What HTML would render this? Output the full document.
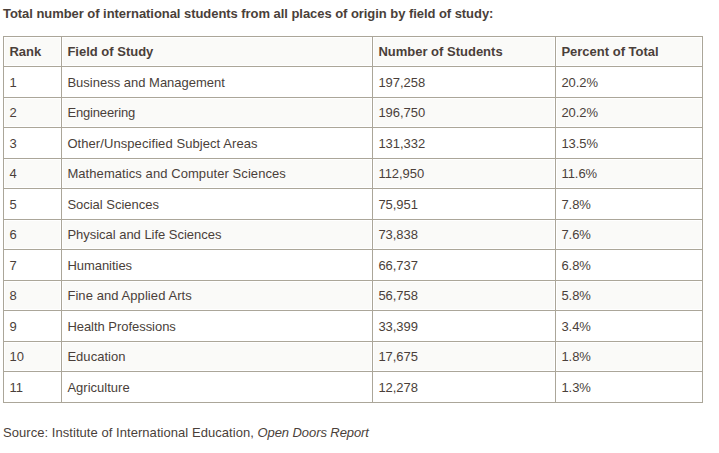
<!DOCTYPE html><html><head><meta charset="utf-8"><style>
html,body{margin:0;padding:0;background:#fff;width:719px;height:453px;overflow:hidden}
body{position:relative;font-family:"Liberation Sans",sans-serif;font-size:13px;color:#4a3f3a}
.l{position:absolute;background:#aba699}
.b{position:absolute;background:#fafaf8}
.t{position:absolute;white-space:nowrap;line-height:15px;letter-spacing:0.075px}
.h{letter-spacing:0px}
.ti{letter-spacing:-0.05px}
.h{font-weight:bold}
</style></head><body>

<div class="b" style="left:5px;top:38px;width:55px;height:27px"></div>
<div class="b" style="left:63px;top:38px;width:308px;height:27px"></div>
<div class="b" style="left:374px;top:38px;width:180px;height:27px"></div>
<div class="b" style="left:557px;top:38px;width:144px;height:27px"></div>
<div class="b" style="left:5px;top:99px;width:55px;height:27px"></div>
<div class="b" style="left:63px;top:99px;width:308px;height:27px"></div>
<div class="b" style="left:374px;top:99px;width:180px;height:27px"></div>
<div class="b" style="left:557px;top:99px;width:144px;height:27px"></div>
<div class="b" style="left:5px;top:160px;width:55px;height:27px"></div>
<div class="b" style="left:63px;top:160px;width:308px;height:27px"></div>
<div class="b" style="left:374px;top:160px;width:180px;height:27px"></div>
<div class="b" style="left:557px;top:160px;width:144px;height:27px"></div>
<div class="b" style="left:5px;top:221px;width:55px;height:27px"></div>
<div class="b" style="left:63px;top:221px;width:308px;height:27px"></div>
<div class="b" style="left:374px;top:221px;width:180px;height:27px"></div>
<div class="b" style="left:557px;top:221px;width:144px;height:27px"></div>
<div class="b" style="left:5px;top:282px;width:55px;height:27px"></div>
<div class="b" style="left:63px;top:282px;width:308px;height:27px"></div>
<div class="b" style="left:374px;top:282px;width:180px;height:27px"></div>
<div class="b" style="left:557px;top:282px;width:144px;height:27px"></div>
<div class="b" style="left:5px;top:343px;width:55px;height:27px"></div>
<div class="b" style="left:63px;top:343px;width:308px;height:27px"></div>
<div class="b" style="left:374px;top:343px;width:180px;height:27px"></div>
<div class="b" style="left:557px;top:343px;width:144px;height:27px"></div>
<div class="l" style="left:3px;top:36px;width:700px;height:1px"></div>
<div class="l" style="left:3px;top:66px;width:700px;height:1px"></div>
<div class="l" style="left:3px;top:97px;width:700px;height:1px"></div>
<div class="l" style="left:3px;top:127px;width:700px;height:1px"></div>
<div class="l" style="left:3px;top:158px;width:700px;height:1px"></div>
<div class="l" style="left:3px;top:188px;width:700px;height:1px"></div>
<div class="l" style="left:3px;top:219px;width:700px;height:1px"></div>
<div class="l" style="left:3px;top:249px;width:700px;height:1px"></div>
<div class="l" style="left:3px;top:280px;width:700px;height:1px"></div>
<div class="l" style="left:3px;top:310px;width:700px;height:1px"></div>
<div class="l" style="left:3px;top:341px;width:700px;height:1px"></div>
<div class="l" style="left:3px;top:371px;width:700px;height:1px"></div>
<div class="l" style="left:3px;top:402px;width:700px;height:1px"></div>
<div class="l" style="left:3px;top:36px;width:1px;height:367px"></div>
<div class="l" style="left:61px;top:36px;width:1px;height:367px"></div>
<div class="l" style="left:372px;top:36px;width:1px;height:367px"></div>
<div class="l" style="left:555px;top:36px;width:1px;height:367px"></div>
<div class="l" style="left:702px;top:36px;width:1px;height:367px"></div>
<div class="t h ti" style="left:3px;top:6px">Total number of international students from all places of origin by field of study:</div>
<div class="t h" style="left:9.40px;top:44.10px">Rank</div>
<div class="t h" style="left:67.40px;top:44.10px">Field of Study</div>
<div class="t h" style="left:378.40px;top:44.10px">Number of Students</div>
<div class="t h" style="left:561.40px;top:44.10px">Percent of Total</div>
<div class="t" style="left:9.40px;top:74.60px">1</div>
<div class="t" style="left:67.40px;top:74.60px;letter-spacing:0.0px">Business and Management</div>
<div class="t" style="left:378.40px;top:74.60px;letter-spacing:-0.03px">197,258</div>
<div class="t" style="left:561.40px;top:74.60px;letter-spacing:-0.03px">20.2%</div>
<div class="t" style="left:9.40px;top:105.10px">2</div>
<div class="t" style="left:67.40px;top:105.10px;letter-spacing:-0.16px">Engineering</div>
<div class="t" style="left:378.40px;top:105.10px;letter-spacing:-0.03px">196,750</div>
<div class="t" style="left:561.40px;top:105.10px;letter-spacing:-0.03px">20.2%</div>
<div class="t" style="left:9.40px;top:135.60px">3</div>
<div class="t" style="left:67.40px;top:135.60px;letter-spacing:0.075px">Other/Unspecified Subject Areas</div>
<div class="t" style="left:378.40px;top:135.60px;letter-spacing:-0.03px">131,332</div>
<div class="t" style="left:561.40px;top:135.60px;letter-spacing:-0.03px">13.5%</div>
<div class="t" style="left:9.40px;top:166.10px">4</div>
<div class="t" style="left:67.40px;top:166.10px;letter-spacing:0.075px">Mathematics and Computer Sciences</div>
<div class="t" style="left:378.40px;top:166.10px;letter-spacing:-0.03px">112,950</div>
<div class="t" style="left:561.40px;top:166.10px;letter-spacing:-0.03px">11.6%</div>
<div class="t" style="left:9.40px;top:196.60px">5</div>
<div class="t" style="left:67.40px;top:196.60px;letter-spacing:-0.02px">Social Sciences</div>
<div class="t" style="left:378.40px;top:196.60px;letter-spacing:-0.03px">75,951</div>
<div class="t" style="left:561.40px;top:196.60px;letter-spacing:-0.03px">7.8%</div>
<div class="t" style="left:9.40px;top:227.10px">6</div>
<div class="t" style="left:67.40px;top:227.10px;letter-spacing:-0.025px">Physical and Life Sciences</div>
<div class="t" style="left:378.40px;top:227.10px;letter-spacing:-0.03px">73,838</div>
<div class="t" style="left:561.40px;top:227.10px;letter-spacing:-0.03px">7.6%</div>
<div class="t" style="left:9.40px;top:257.60px">7</div>
<div class="t" style="left:67.40px;top:257.60px;letter-spacing:-0.035px">Humanities</div>
<div class="t" style="left:378.40px;top:257.60px;letter-spacing:-0.03px">66,737</div>
<div class="t" style="left:561.40px;top:257.60px;letter-spacing:-0.03px">6.8%</div>
<div class="t" style="left:9.40px;top:288.10px">8</div>
<div class="t" style="left:67.40px;top:288.10px;letter-spacing:0.075px">Fine and Applied Arts</div>
<div class="t" style="left:378.40px;top:288.10px;letter-spacing:-0.03px">56,758</div>
<div class="t" style="left:561.40px;top:288.10px;letter-spacing:-0.03px">5.8%</div>
<div class="t" style="left:9.40px;top:318.60px">9</div>
<div class="t" style="left:67.40px;top:318.60px;letter-spacing:-0.04px">Health Professions</div>
<div class="t" style="left:378.40px;top:318.60px;letter-spacing:-0.03px">33,399</div>
<div class="t" style="left:561.40px;top:318.60px;letter-spacing:-0.03px">3.4%</div>
<div class="t" style="left:9.40px;top:349.10px">10</div>
<div class="t" style="left:67.40px;top:349.10px;letter-spacing:0.035px">Education</div>
<div class="t" style="left:378.40px;top:349.10px;letter-spacing:-0.03px">17,675</div>
<div class="t" style="left:561.40px;top:349.10px;letter-spacing:-0.03px">1.8%</div>
<div class="t" style="left:9.40px;top:379.60px">11</div>
<div class="t" style="left:67.40px;top:379.60px;letter-spacing:0.015px">Agriculture</div>
<div class="t" style="left:378.40px;top:379.60px;letter-spacing:-0.03px">12,278</div>
<div class="t" style="left:561.40px;top:379.60px;letter-spacing:-0.03px">1.3%</div>
<div class="t" style="left:3px;top:425px;letter-spacing:0.05px">Source: Institute of International Education, <i style="letter-spacing:-0.08px">Open Doors Report</i></div>
</body></html>
